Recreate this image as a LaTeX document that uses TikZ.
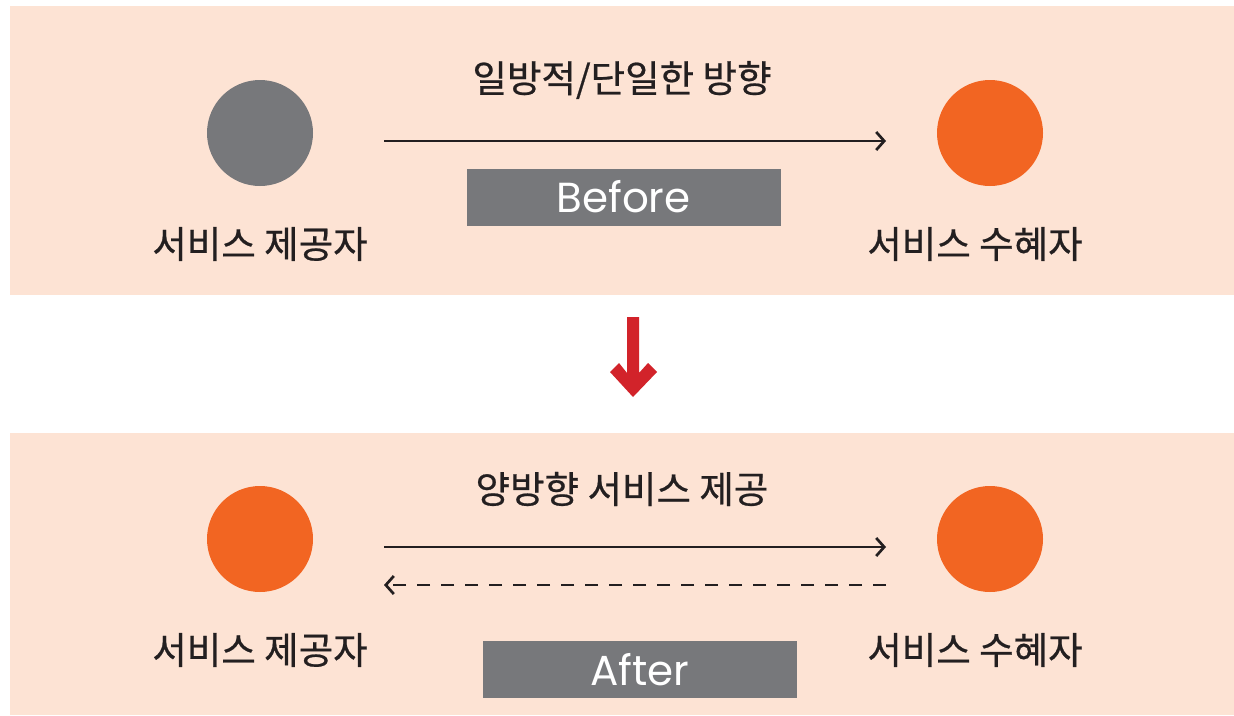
\documentclass[tikz,border=0pt]{standalone}
\usepackage{fontspec}
\setmainfont{Noto Sans CJK KR}
\newfontfamily\korfont[FakeBold=0.6]{Noto Sans CJK KR}
\newfontfamily\latinfont{Poppins}
\usetikzlibrary{arrows.meta}
\definecolor{peach}{HTML}{FDE3D4}
\definecolor{dgray}{HTML}{77787B}
\definecolor{orng}{HTML}{F26522}
\definecolor{redarrow}{HTML}{D2232A}
\definecolor{ink}{HTML}{231F20}
\tikzset{
  panel/.style={fill=peach, draw=none},
  dot/.style={circle, minimum size=106pt, inner sep=0pt, draw=none},
  lbl/.style={font=\korfont\fontsize{37.5}{40}\selectfont, text=ink, inner sep=0pt},
  tagbox/.style={fill=dgray, text=white, minimum width=314pt, minimum height=57pt, inner sep=0pt, font=\latinfont\fontsize{42}{46}\selectfont},
  conn/.style={draw=ink, line width=2.7pt, -{Straight Barb[length=8pt, width=18pt, line width=2.7pt]}},
}
\begin{document}
\begin{tikzpicture}[x=1pt, y=-1pt]
\useasboundingbox (0,0) rectangle (1234,715);
\fill[white] (0,0) rectangle (1234,715);
\path[panel] (10,6) rectangle (1234,295);
\path[panel] (10,433) rectangle (1234,715);

% top panel
\node[dot, fill=dgray] (p1) at (260,133) {};
\node[dot, fill=orng] (r1) at (990,133) {};
\node[lbl] (t1) at (622,80) {일방적/단일한 방향};
\node[lbl] (pl1) at (260,244) {서비스 제공자};
\node[lbl] (rl1) at (975,244) {서비스 수혜자};
\coordinate (a1s) at (384,141);
\coordinate (a1e) at (886,141);
\draw[conn] (a1s) -- (a1e);
\node[tagbox] (before) at (623.5,197) {Before};

% red arrow
\fill[redarrow] (627,317) -- (639,317) -- (639,373) -- (648,363) -- (657,372) -- (633,397) -- (610,372) -- (619,363) -- (627,373) -- cycle;

% bottom panel
\node[dot, fill=orng] (p2) at (260,539) {};
\node[dot, fill=orng] (r2) at (990,539) {};
\node[lbl] (t2) at (622,489) {양방향 서비스 제공};
\node[lbl] (pl2) at (260,650) {서비스 제공자};
\node[lbl] (rl2) at (975,650) {서비스 수혜자};
\coordinate (a2s) at (384,547);
\coordinate (a2e) at (886,547);
\draw[conn] (a2s) -- (a2e);
\coordinate (a3s) at (886,585);
\coordinate (a3e) at (384,585);
\draw[conn, dash pattern=on 13pt off 11pt] (a3s) -- (a3e);
\node[tagbox] (after) at (640,669.5) {After};
\end{tikzpicture}
\end{document}
